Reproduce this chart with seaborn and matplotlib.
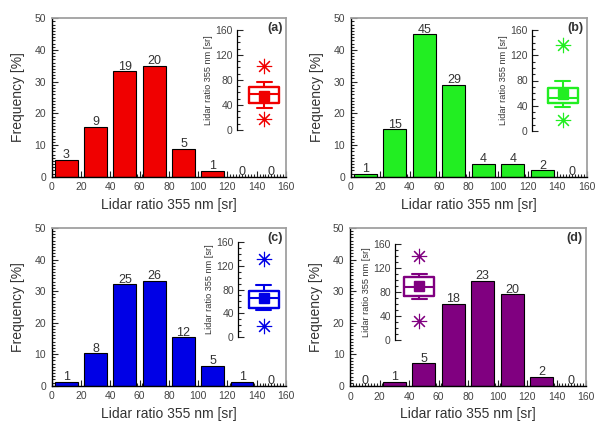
import numpy as np
import pandas as pd
import matplotlib
matplotlib.use('Agg')
import matplotlib.pyplot as plt
from matplotlib.ticker import MultipleLocator
import seaborn as sns

sns.set_style('ticks')
plt.rcParams['font.family'] = ['Liberation Sans', 'DejaVu Sans']

# centros dos intervalos (sr)
bin_centers = [10, 30, 50, 70, 90, 110, 130, 150]

# numero de casos por intervalo
counts_a = [3, 9, 19, 20, 5, 1, 0, 0]
counts_b = [1, 15, 45, 29, 4, 4, 2, 0]
counts_c = [1, 8, 25, 26, 12, 5, 1, 0]
counts_d = [0, 1, 5, 18, 23, 20, 2, 0]

# frequencia (%)
freq_a = [5.3, 15.8, 33.3, 35.1, 8.8, 1.8, 0, 0]
freq_b = [1.0, 15.0, 45.0, 29.0, 4.0, 4.0, 2.0, 0]
freq_c = [1.3, 10.3, 32.1, 33.3, 15.4, 6.4, 1.3, 0]
freq_d = [0, 1.4, 7.2, 26.1, 33.3, 29.0, 2.9, 0]

# estatisticas do boxplot: [min whisker, q1, mediana, q3, max whisker], media, outliers
box_a = [35, 43, 57, 68, 76]
mean_a = 54
out_a = [17, 102]
box_b = [38, 44, 53, 68, 80]
mean_b = 59
out_b = [17, 137]
box_c = [45, 49, 65, 77, 88]
mean_c = 66
out_c = [18, 132]
box_d = [69, 73, 88, 105, 110]
mean_d = 90
out_d = [32, 140]

W, H = 595, 426
fig = plt.figure(figsize=(W / 100, H / 100), dpi=100)
txt = '#333333'


def px_rect(left, top, right, bottom):
    return [left / W, 1 - bottom / H, (right - left) / W, (bottom - top) / H]


paineis = [
    ('(a)', counts_a, freq_a, box_a, mean_a, out_a, '#f00000',
     (51.7, 18.3, 286, 176.7), (237, 30, 130), 0.45),
    ('(b)', counts_b, freq_b, box_b, mean_b, out_b, '#22ee22',
     (350.7, 18.3, 586.7, 176.7), (532, 30, 131), 0.51),
    ('(c)', counts_c, freq_c, box_c, mean_c, out_c, '#0000e6',
     (51.7, 228, 286, 385.7), (238, 242, 337), 0.43),
    ('(d)', counts_d, freq_d, box_d, mean_d, out_d, '#800080',
     (350, 228, 586, 386), (395, 244, 340), 0.40),
]

for nome, cnt, freq, box, media, outl, cor, rect, irect, bpos in paineis:
    ax = fig.add_axes(px_rect(*rect))
    df = pd.DataFrame({'centro': bin_centers, 'freq': freq})
    sns.barplot(data=df, x='centro', y='freq', native_scale=True, color=cor,
                edgecolor='black', linewidth=0.8, width=0.78, errorbar=None,
                saturation=1, ax=ax)
    ax.bar_label(ax.containers[0], labels=[str(c) for c in cnt], padding=-1,
                 fontsize=9, color=txt)
    ax.set_xlim(0, 160)
    ax.set_ylim(0, 50)
    ax.xaxis.set_major_locator(MultipleLocator(20))
    ax.xaxis.set_minor_locator(MultipleLocator(2))
    ax.yaxis.set_major_locator(MultipleLocator(10))
    ax.yaxis.set_minor_locator(MultipleLocator(1))
    ax.tick_params(which='both', direction='in', top=False, right=False,
                   labelsize=7.5, labelcolor='#444444', width=0.8)
    ax.tick_params(which='major', length=4, pad=4)
    ax.tick_params(which='minor', length=2)
    ax.set_xlabel('Lidar ratio 355 nm [sr]', fontsize=10, color=txt, labelpad=4)
    ax.set_ylabel('Frequency [%]', fontsize=10, color=txt, labelpad=7)
    for s in ['left', 'bottom']:
        ax.spines[s].set_color('black')
        ax.spines[s].set_linewidth(1.0)
    for s in ['top', 'right']:
        ax.spines[s].set_color('#a0a0a0')
        ax.spines[s].set_linewidth(1.3)
    ax.text(0.985, 0.975, nome, transform=ax.transAxes, ha='right', va='top',
            fontsize=9, fontweight='bold', color=txt)

    # inset com boxplot
    sx, itop, ibot = irect
    ia = fig.add_axes(px_rect(sx, itop, sx + 60, ibot))
    ia.patch.set_alpha(0)
    stats = [{'whislo': box[0], 'q1': box[1], 'med': box[2], 'q3': box[3],
              'whishi': box[4], 'mean': media, 'fliers': outl}]
    ia.bxp(stats, positions=[bpos], widths=0.5, showmeans=True,
           boxprops=dict(color=cor, linewidth=1.7),
           medianprops=dict(color=cor, linewidth=1.5),
           whiskerprops=dict(color=cor, linewidth=1.5),
           capprops=dict(color=cor, linewidth=1.5),
           meanprops=dict(marker='s', markersize=7, markerfacecolor=cor,
                          markeredgecolor=cor),
           flierprops=dict(marker=(8, 2, 0), markersize=11, markeredgecolor=cor,
                           markeredgewidth=0.8, linestyle='none'))
    ia.set_xlim(0, 1)
    ia.set_ylim(0, 160)
    ia.yaxis.set_major_locator(MultipleLocator(40))
    ia.yaxis.set_minor_locator(MultipleLocator(10))
    ia.tick_params(axis='y', which='both', direction='in', labelsize=7.5,
                   labelcolor='#444444', width=0.8)
    ia.tick_params(axis='y', which='major', length=4, pad=3)
    ia.tick_params(axis='y', which='minor', length=2)
    ia.set_xticks([])
    for s in ['top', 'right', 'bottom']:
        ia.spines[s].set_visible(False)
    ia.spines['left'].set_color('black')
    ia.spines['left'].set_linewidth(0.9)
    ia.set_ylabel('Lidar ratio 355 nm [sr]', fontsize=6.6, color=txt, labelpad=2)

fig.savefig('out.png', dpi=100)
